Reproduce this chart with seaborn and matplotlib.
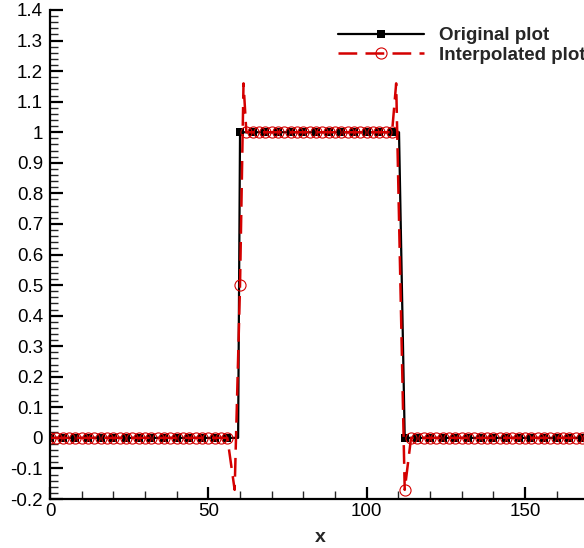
import numpy as np
import pandas as pd
import matplotlib
matplotlib.use("Agg")
import matplotlib.pyplot as plt
from matplotlib.lines import Line2D
from matplotlib.ticker import MultipleLocator, FuncFormatter
import seaborn as sns

# ----------------------
# Data
# ----------------------
x_orig = [0, 4, 8, 12, 16, 20, 24, 28, 32, 36, 40, 44, 48, 52, 56,
          59.4,
          60, 64, 68, 72, 76, 80, 84, 88, 92, 96, 100, 104, 108,
          110.2,
          112, 116, 120, 124, 128, 132, 136, 140, 144, 148, 152, 156, 160, 164, 168, 172]
y_orig = [0, 0, 0, 0, 0, 0, 0, 0, 0, 0, 0, 0, 0, 0, 0,
          0,
          1, 1, 1, 1, 1, 1, 1, 1, 1, 1, 1, 1, 1,
          1,
          0, 0, 0, 0, 0, 0, 0, 0, 0, 0, 0, 0, 0, 0, 0, 0]

x_interp = [0, 2, 4, 6, 8, 10, 12, 14, 16, 18, 20, 22, 24, 26, 28, 30, 32, 34, 36, 38,
            40, 42, 44, 46, 48, 50, 52, 54, 56,
            58.3, 60, 61.1,
            62, 64, 66, 68, 70, 72, 74, 76, 78, 80, 82, 84, 86, 88, 90, 92, 94, 96, 98,
            100, 102, 104, 106, 108,
            109.3, 112,
            114, 116, 118, 120, 122, 124, 126, 128, 130, 132, 134, 136, 138, 140, 142,
            144, 146, 148, 150, 152, 154, 156, 158, 160, 162, 164, 166, 168, 170, 172]
y_interp = [0, 0, 0, 0, 0, 0, 0, 0, 0, 0, 0, 0, 0, 0, 0, 0, 0, 0, 0, 0,
            0, 0, 0, 0, 0, 0, 0, 0, 0,
            -0.17, 0.5, 1.16,
            1, 1, 1, 1, 1, 1, 1, 1, 1, 1, 1, 1, 1, 1, 1, 1, 1, 1, 1,
            1, 1, 1, 1, 1,
            1.16, -0.17,
            0, 0, 0, 0, 0, 0, 0, 0, 0, 0, 0, 0, 0, 0, 0,
            0, 0, 0, 0, 0, 0, 0, 0, 0, 0, 0, 0, 0, 0, 0]

labels = ["Original plot", "Interpolated plot"]

orig_df = pd.DataFrame({"x": x_orig, "y": y_orig})
interp_df = pd.DataFrame({"x": x_interp, "y": y_interp})

# markers only on the regular grid points
orig_marks = [float(v).is_integer() for v in x_orig]
interp_marks = [float(v).is_integer() for v in x_interp]

# ----------------------
# Style
# ----------------------
sns.set_style("ticks")
plt.rcParams["font.family"] = ["Liberation Sans", "DejaVu Sans"]

red = "#d40000"

fig = plt.figure(figsize=(5.84, 5.48), dpi=100)
# axes runs past the right edge, like the cropped reference
ax = fig.add_axes([50 / 584, 49 / 548, 540 / 584, 489 / 548])

sns.lineplot(data=orig_df, x="x", y="y", ax=ax, sort=False, estimator=None,
             color="black", linewidth=1.6, marker="s", markersize=6,
             markeredgewidth=0, markevery=orig_marks)
sns.lineplot(data=interp_df, x="x", y="y", ax=ax, sort=False, estimator=None,
             color=red, linewidth=1.8, linestyle=(0, (7.5, 3.3)),
             marker="o", markersize=8, markerfacecolor="none",
             markeredgecolor=red, markeredgewidth=0.8, markevery=interp_marks)

ax.set_xlim(0, 170.5)
ax.set_ylim(-0.2, 1.4)

ax.xaxis.set_major_locator(MultipleLocator(50))
ax.xaxis.set_minor_locator(MultipleLocator(10))
ax.yaxis.set_major_locator(MultipleLocator(0.1))
ax.yaxis.set_minor_locator(MultipleLocator(0.02))
ax.yaxis.set_major_formatter(FuncFormatter(lambda v, p: "%g" % round(v, 2) if abs(v) > 1e-9 else "0"))

ax.tick_params(axis="both", which="major", direction="in", length=9, width=1.6,
               labelsize=13.5, colors="black")
ax.tick_params(axis="both", which="minor", direction="in", length=6, width=1.0)
ax.tick_params(axis="x", which="major", pad=3)
ax.tick_params(axis="y", which="major", pad=5)

sns.despine(ax=ax, top=True, right=True)
for s in ["left", "bottom"]:
    ax.spines[s].set_linewidth(1.6)
    ax.spines[s].set_color("black")

ax.set_xlabel("x", fontsize=14, fontweight="bold", labelpad=6)
ax.set_ylabel("")

handles = [
    Line2D([], [], color="black", linewidth=1.6, marker="s", markersize=6, markeredgewidth=0),
    Line2D([], [], color=red, linewidth=1.8, linestyle=(0, (7.5, 3.3)), marker="o",
           markersize=8, markerfacecolor="none", markeredgecolor=red, markeredgewidth=0.8),
]
leg = fig.legend(handles, labels, loc="upper left",
                 bbox_to_anchor=(338 / 584, 1 - 27 / 548),
                 frameon=False, borderpad=0, borderaxespad=0,
                 handlelength=4.6, handletextpad=0.8,
                 labelspacing=0.12, numpoints=1,
                 prop={"size": 13.5, "weight": "bold"})

fig.savefig("out.png", dpi=100)
